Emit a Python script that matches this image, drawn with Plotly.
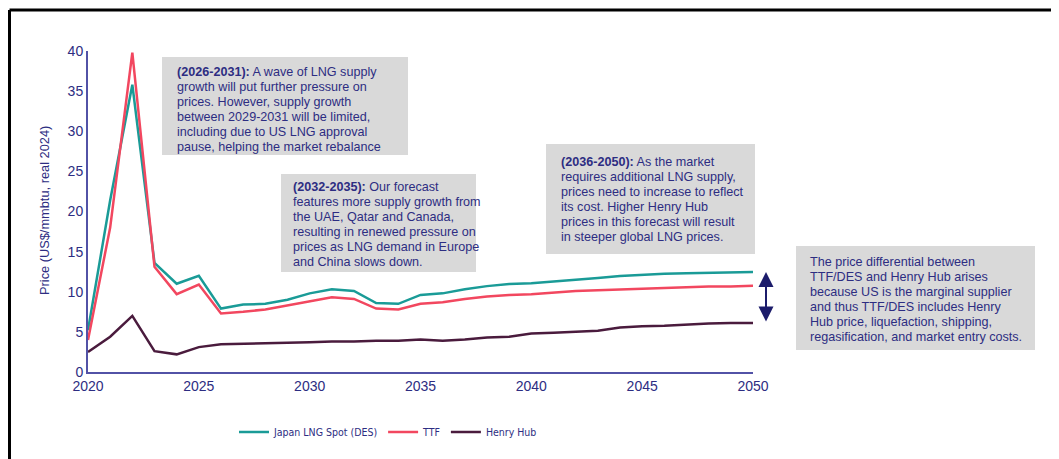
import plotly.graph_objects as go

years = list(range(2020, 2051))

japan_lng = [5.2, 21.4, 35.8, 13.6, 11.0, 12.0, 7.9, 8.4, 8.5, 9.0, 9.8, 10.3, 10.1, 8.6, 8.5, 9.6,
             9.8, 10.3, 10.7, 10.96, 11.05, 11.25, 11.5, 11.7, 11.95, 12.1, 12.25, 12.3, 12.35, 12.35, 12.45]
ttf = [4.0, 18.0, 39.8, 13.1, 9.7, 10.9, 7.3, 7.5, 7.8, 8.3, 8.8, 9.3, 9.1, 7.9, 7.8, 8.5,
       8.7, 9.1, 9.4, 9.6, 9.7, 9.9, 10.1, 10.2, 10.3, 10.4, 10.5, 10.6, 10.65, 10.65, 10.75]
henry_hub = [2.5, 4.4, 7.0, 2.6, 2.2, 3.1, 3.45, 3.5, 3.6, 3.6, 3.7, 3.8, 3.8, 3.9, 3.9, 4.05,
             3.9, 4.05, 4.3, 4.4, 4.8, 4.9, 5.0, 5.15, 5.55, 5.7, 5.75, 5.9, 6.05, 6.1, 6.1]

series_names = ["Japan LNG Spot (DES)", "TTF", "Henry Hub"]
series_colors = ["#1a9b97", "#f2475f", "#4a1b3d"]

notes = [
    ["<b>(2026-2031):</b> A wave of LNG supply", "growth will put further pressure on",
     "prices. However, supply growth", "between 2029-2031 will be limited,",
     "including due to US LNG approval", "pause, helping the market rebalance"],
    ["<b>(2032-2035):</b> Our forecast", "features more supply growth from",
     "the UAE, Qatar and Canada,", "resulting in renewed pressure on",
     "prices as LNG demand in Europe", "and China slows down."],
    ["<b>(2036-2050):</b> As the market", "requires additional LNG supply,",
     "prices need to increase to reflect", "its cost. Higher Henry Hub",
     "prices in this forecast will result", "in steeper global LNG prices."],
    ["The price differential between", "TTF/DES and Henry Hub arises",
     "because US is the marginal supplier", "and thus TTF/DES includes Henry",
     "Hub price, liquefaction, shipping,", "regasification, and market entry costs."],
]

navy = "#2d2d82"
axis_col = "#5252a6"

# plot area in page pixels: x 88..753, y 51..372 (page body has an 8px margin)
OFF = 8
W, H = 1059 - OFF, 459 - OFF
L, R, T, B = 88, 753, 51, 372


def px_x(p):
    return (p - L) / (R - L)


def px_y(p):
    return (B - p) / (B - T)


fig = go.Figure()
for name, vals, col in zip(series_names, [japan_lng, ttf, henry_hub], series_colors):
    fig.add_trace(go.Scatter(x=years, y=vals, name=name, mode="lines",
                             line=dict(color=col, width=2.5)))

# grey note boxes (page pixels), text left edge and first line centre
boxes = [(162, 57, 408, 155), (281, 174, 476, 272), (546, 144, 755, 254), (796, 246, 1035, 350)]
text_pos = [(175, 72), (291, 187), (559, 162), (808, 262)]
for (x0, y0, x1, y1), (tx, ty), lines in zip(boxes, text_pos, notes):
    fig.add_shape(type="rect", xref="paper", yref="paper",
                  x0=px_x(x0), x1=px_x(x1), y0=px_y(y0), y1=px_y(y1),
                  fillcolor="#d9d9d9", line=dict(width=0), layer="below")
    for i, txt in enumerate(lines):
        fig.add_annotation(xref="paper", yref="paper", x=px_x(tx), y=px_y(ty + i * 15),
                           xanchor="left", yanchor="middle", align="left", showarrow=False,
                           text=txt, font=dict(size=12.6, color=navy))

# double-headed arrow showing the differential
fig.add_annotation(xref="paper", yref="paper", x=px_x(766), y=px_y(272),
                   axref="pixel", ayref="pixel", ax=0, ay=51, text="",
                   showarrow=True, arrowside="end+start", arrowhead=2,
                   arrowsize=1.5, arrowwidth=2, arrowcolor="#1c1c6b")

# y-axis title
fig.add_annotation(xref="paper", yref="paper", x=px_x(44), y=px_y(211), textangle=-90,
                   xanchor="center", yanchor="middle",
                   showarrow=False, text="Price (US$/mmbtu, real 2024)",
                   font=dict(size=12.8, color=navy))

# frame lines top and left
fig.add_shape(type="line", xref="paper", yref="paper", x0=px_x(9.5), x1=px_x(1065),
              y0=px_y(10), y1=px_y(10), line=dict(color="black", width=3))
fig.add_shape(type="line", xref="paper", yref="paper", x0=px_x(9.5), x1=px_x(9.5),
              y0=px_y(10), y1=px_y(465), line=dict(color="black", width=3))

fig.update_layout(
    width=W, height=H,
    margin=dict(l=L - OFF, r=W - (R - OFF), t=T - OFF, b=H - (B - OFF), pad=0),
    paper_bgcolor="white", plot_bgcolor="white",
    font=dict(family="Arial, Liberation Sans, sans-serif", color=navy, size=12),
    showlegend=True,
    legend=dict(orientation="h", x=px_x(388), xanchor="center", y=px_y(432), yanchor="middle",
                font=dict(size=10.5, color=navy,
                          family="Liberation Sans Narrow, DejaVu Sans Condensed, Arial, sans-serif")),
)
fig.update_xaxes(range=[2020, 2050], tickvals=list(range(2020, 2051, 5)), showgrid=False,
                 showline=True, linecolor=axis_col, linewidth=2, ticks="", zeroline=False,
                 tickfont=dict(size=14, color=navy))
fig.update_yaxes(range=[0, 40], tickvals=list(range(0, 41, 5)), showgrid=False,
                 showline=True, linecolor=axis_col, linewidth=2, ticks="", zeroline=False,
                 tickfont=dict(size=14, color=navy))

fig.write_html("out.html")
